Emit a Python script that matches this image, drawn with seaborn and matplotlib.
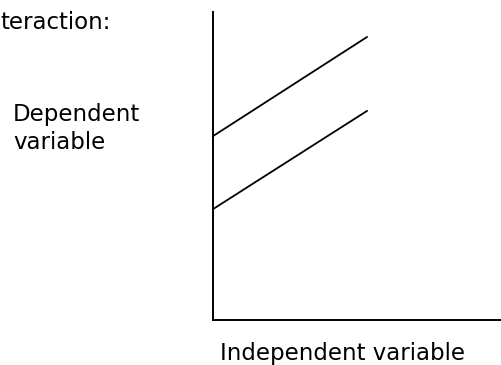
import matplotlib
matplotlib.use('Agg')
import matplotlib.pyplot as plt
import seaborn as sns
import pandas as pd

# Two parallel lines (no interaction)
x_vals = [0.0, 5.35]
upper_y = [5.97, 9.19]
lower_y = [3.60, 6.79]

df = pd.DataFrame({
    'x': x_vals + x_vals,
    'y': upper_y + lower_y,
    'group': ['upper'] * 2 + ['lower'] * 2,
})

sns.set_style('white')
plt.rcParams['font.family'] = ['DejaVu Sans']
plt.rcParams['text.color'] = 'black'

fig = plt.figure(figsize=(5.01, 3.65), dpi=100)
W, H = 501, 365
ax = fig.add_axes([213 / W, (H - 320) / H, 288 / W, 308 / H])

sns.lineplot(data=df, x='x', y='y', hue='group', palette=['black', 'black'],
             legend=False, linewidth=1.3, ax=ax)

ax.set_xlim(0, 10)
ax.set_ylim(0, 10)
ax.set_xticks([])
ax.set_yticks([])
ax.set_xlabel('')
ax.set_ylabel('')
for side in ['top', 'right']:
    ax.spines[side].set_visible(False)
for side in ['left', 'bottom']:
    ax.spines[side].set_color('black')
    ax.spines[side].set_linewidth(1.4)

fs = 16.5
fig.text(0 / W, 1 - 29 / H, 'teraction:', fontsize=fs, ha='left', va='baseline')
fig.text(13 / W, 1 - 121 / H, 'Dependent', fontsize=fs, ha='left', va='baseline')
fig.text(13 / W, 1 - 149 / H, 'variable', fontsize=fs, ha='left', va='baseline')
fig.text(220 / W, 1 - 360 / H, 'Independent variable', fontsize=fs, ha='left', va='baseline')

fig.savefig('out.png', dpi=100)
